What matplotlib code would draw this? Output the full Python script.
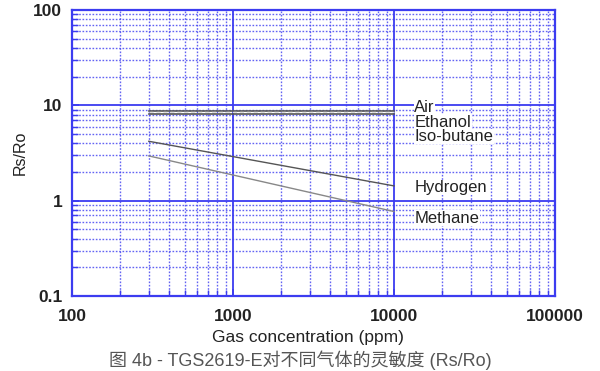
import matplotlib
matplotlib.use("Agg")
import matplotlib.pyplot as plt
from matplotlib.ticker import LogLocator, NullFormatter, FixedLocator, FixedFormatter

plt.rcParams['font.family'] = ['Liberation Sans', 'Noto Sans CJK SC', 'DejaVu Sans']

# data (ppm vs Rs/Ro)
conc = [300, 10000]
air = [8.8, 8.8]
ethanol = [8.5, 8.5]
isobutane = [8.2, 8.2]
hydrogen = [4.2, 1.43]
methane = [2.95, 0.77]

gas_names = ["Air", "Ethanol", "Iso-butane", "Hydrogen", "Methane"]
label_y = [9.4, 6.65, 4.7, 1.38, 0.655]

xticks = [100, 1000, 10000, 100000]
yticks = [0.1, 1, 10, 100]

GRID = "#3c3cf0"

fig = plt.figure(figsize=(6, 3.71), dpi=100)
ax = fig.add_axes([0.12, 0.202, 0.805, 0.771])

ax.set_xscale("log")
ax.set_yscale("log")
ax.set_xlim(100, 100000)
ax.set_ylim(0.1, 100)

ax.xaxis.set_major_locator(FixedLocator(xticks))
ax.xaxis.set_major_formatter(FixedFormatter([str(v) for v in xticks]))
ax.yaxis.set_major_locator(FixedLocator(yticks))
ax.yaxis.set_major_formatter(FixedFormatter(["0.1", "1", "10", "100"]))
ax.xaxis.set_minor_locator(LogLocator(base=10, subs=range(2, 10)))
ax.yaxis.set_minor_locator(LogLocator(base=10, subs=range(2, 10)))
ax.xaxis.set_minor_formatter(NullFormatter())
ax.yaxis.set_minor_formatter(NullFormatter())

ax.grid(which="major", color=GRID, lw=1.3, ls="-")
ax.grid(which="minor", color=GRID, lw=1.0, ls=(0, (1.2, 1.2)), alpha=0.8)
ax.set_axisbelow(True)

for s in ax.spines.values():
    s.set_color(GRID)
    s.set_linewidth(1.6)

ax.tick_params(which="both", direction="in", colors=GRID, labelcolor="#222222")
ax.tick_params(which="major", length=5, width=1.3, labelsize=12.5)
ax.tick_params(axis="x", which="major", pad=9)
ax.tick_params(axis="y", which="major", pad=7)
ax.tick_params(which="minor", length=4, width=1.0)
for lab in ax.get_xticklabels() + ax.get_yticklabels():
    lab.set_fontweight("bold")

ax.plot(conc, air, color="#555555", lw=1.2)
ax.plot(conc, ethanol, color="#dddddd", lw=1.0, ls=(0, (3, 2)))
ax.plot(conc, isobutane, color="#555555", lw=1.2)
ax.plot(conc, hydrogen, color="#555555", lw=1.0)
ax.plot(conc, methane, color="#888888", lw=1.0)

for name, yv in zip(gas_names, label_y):
    ax.text(13400, yv, name, fontsize=12, color="#222222", va="center", ha="left",
            bbox=dict(facecolor="white", edgecolor="none", pad=0.3))

ax.set_ylabel("Rs/Ro", fontsize=11.5, color="#222222", labelpad=4)
ax.set_xlabel("Gas concentration (ppm)", fontsize=12.5, color="#222222")
ax.xaxis.set_label_coords(0.489, -0.118)

fig.text(0.5, 0.028, "图 4b - TGS2619-E对不同气体的灵敏度 (Rs/Ro)", ha="center", va="center",
         fontsize=13, color="#555555",
         family=['Liberation Sans', 'Noto Sans CJK SC', 'DejaVu Sans'])

fig.savefig("out.png", dpi=100)
